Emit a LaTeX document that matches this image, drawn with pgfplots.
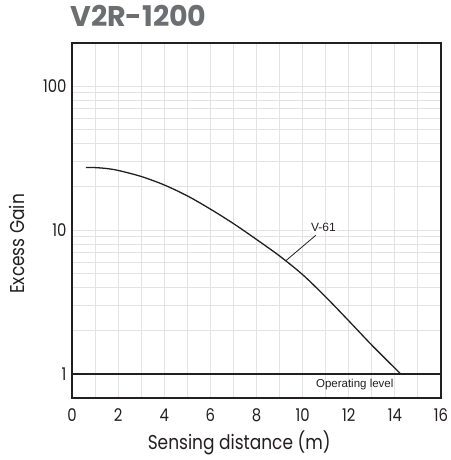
\documentclass[border=0pt]{standalone}
\usepackage{fontspec}
\usepackage{pgfplots}
\pgfplotsset{compat=1.18}
\setmainfont{Poppins}
\newfontfamily\titlefont{Poppins}
\newfontfamily\labfont{Poppins}[FakeStretch=0.85]
\newfontfamily\arialfont{Liberation Sans}
\definecolor{ink}{HTML}{231F20}
\definecolor{titlegray}{HTML}{6D6E71}
\definecolor{gridgray}{HTML}{E3E3E3}
\begin{document}
\begin{tikzpicture}[x=1pt,y=1pt]
\path[use as bounding box] (0,0) rectangle (450,460);
\node[anchor=base west, inner sep=0, text=titlegray, font=\titlefont\bfseries\fontsize{28.5}{28.5}\selectfont] at (70,433) {V2R-1200};
\begin{axis}[
  at={(72pt,62pt)}, anchor=south west,
  scale only axis, width=369pt, height=355pt,
  xmin=0, xmax=16, ymode=log, ymin=0.68, ymax=200,
  xtick={0,2,4,6,8,10,12,14,16},
  xticklabels={0,2,4,6,8,10,12,14,16},
  minor xtick={1,3,5,7,9,11,13,15},
  ytick={1,10,100}, yticklabels={1,10,100},
  minor ytick={2,3,4,5,6,7,8,9,20,30,40,50,60,70,80,90},
  grid=both,
  major grid style={gridgray, line width=1pt},
  minor grid style={gridgray, line width=1pt},
  major tick length=0pt, minor tick length=0pt,
  axis line style={ink, line width=1.3pt},
  tick label style={text=ink, font=\labfont\fontsize{17.5}{17.5}\selectfont},
  xticklabel style={yshift=-7pt},
  yticklabel style={xshift=-2pt},
  xlabel={Sensing distance (m)},
  ylabel={Excess Gain},
  label style={text=ink, font=\labfont\fontsize{20}{20}\selectfont},
  xlabel style={at={(axis description cs:0.453,0)}, anchor=north, yshift=-29pt},
  ylabel style={at={(axis description cs:0,0.434)}, anchor=south, yshift=44pt},
  clip=false,
]
\addplot[ink, line width=1.3pt] coordinates {(0,1) (16,1)};
\addplot[ink, line width=1.3pt, smooth, tension=0.5] coordinates {
  (0.6,27.2) (1,27.2) (1.5,26.8) (2,26.0) (3,23.6) (4,20.6) (5,17.3)
  (6,14.0) (7,11.1) (8,8.61) (9,6.61) (10,4.90) (11,3.43) (12,2.34)
  (13,1.585) (14,1.096) (14.25,1.0)
};
\draw[ink, line width=0.8pt] (axis cs:9.26,6.1) -- (axis cs:10.57,9.2);
\node[fill=white, inner sep=1pt, text=ink, font=\arialfont\fontsize{12}{12}\selectfont] at (axis cs:10.9,10.5) {V-61};
\node[text=ink, font=\arialfont\fontsize{11.5}{11.5}\selectfont] at (axis cs:12.26,0.84) {Operating level};
\end{axis}
\end{tikzpicture}
\end{document}
